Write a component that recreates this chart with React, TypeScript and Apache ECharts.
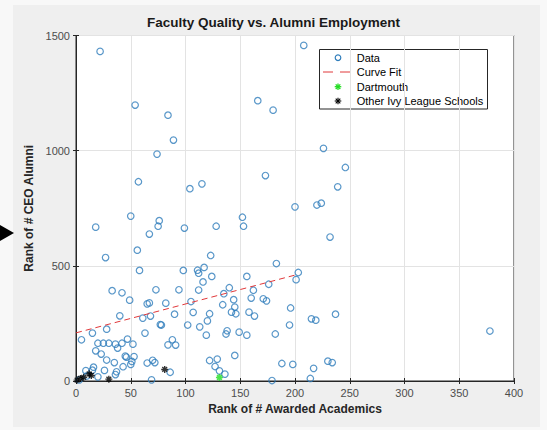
import React, { useEffect, useRef } from "react";
import * as echarts from "echarts";

// Rank of # Awarded Academics (x) and Rank of # CEO Alumni (y) for every school
const rankAwarded = [
  22, 208, 54, 166, 180, 84, 89, 226, 74, 246, 173, 57, 104, 115, 239, 224, 220, 200,
  50, 152, 76, 75, 18, 99, 128, 153, 67, 232, 56, 27, 123, 183, 58, 98, 111, 112, 117,
  124, 156, 203, 201, 116, 140, 176, 162, 33, 42, 49, 73, 65, 67, 82, 94, 105, 112, 135,
  160, 171, 174, 144, 134, 145, 142, 146, 158, 163, 196, 195, 215, 219, 237, 122, 120,
  107, 113, 102, 77, 78, 90, 68, 61, 40, 28, 15, 63, 5, 20, 25, 30, 36, 42, 47, 52, 38,
  18, 23, 45, 46, 53, 28, 35, 51, 50, 43, 65, 72, 70, 84, 88, 91, 26, 16, 9, 20, 37, 36,
  69, 86, 138, 137, 149, 156, 119, 182, 145, 122, 129, 127, 131, 136, 188, 198, 179, 217,
  214, 230, 234, 378, 15, 3, 10,
];
const rankCeo = [
  1431, 1457, 1198, 1217, 1176, 1154, 1046, 1010, 985, 927, 892, 865, 835, 856, 843, 772,
  764, 756, 716, 711, 696, 672, 668, 664, 672, 672, 638, 625, 568, 536, 545, 510, 480, 480,
  481, 468, 493, 454, 454, 471, 440, 430, 405, 420, 394, 392, 383, 351, 396, 335, 339, 338,
  396, 345, 395, 379, 360, 357, 348, 353, 331, 321, 299, 292, 299, 282, 317, 243, 270, 264,
  290, 292, 261, 298, 235, 243, 245, 243, 290, 282, 273, 283, 225, 208, 208, 179, 164, 164,
  164, 160, 164, 182, 160, 143, 131, 117, 108, 104, 106, 91, 80, 85, 72, 62, 78, 80, 90,
  157, 179, 156, 46, 60, 45, 18, 40, 28, 5, 38, 218, 204, 212, 199, 199, 204, 111, 89, 95,
  63, 44, 30, 76, 72, 2, 55, 11, 86, 80, 217, 47, 5, 22,
];

// Linear fit drawn over the fitted range
const fitX = [0, 201];
const fitY = [209, 461];

// Highlighted schools
const dartmouthX = [131];
const dartmouthY = [15];
const ivyX = [1, 4, 7, 12, 14, 30, 81];
const ivyY = [4, 11, 16, 31, 24, 8, 50];

const legendNames = ["Data", "Curve Fit", "Dartmouth", "Other Ivy League Schools"];

const xTicks = { min: 0, max: 400, step: 50 };
const yTicks = { min: 0, max: 1500, step: 500 };

const FONT = "'Liberation Sans', Arial, Helvetica, sans-serif";
const ASTERISK = "path://M5,0L5,10M0,5L10,5M1.6,1.6L8.4,8.4M8.4,1.6L1.6,8.4";
const BLUE = "#2f7dbb";
const RED = "#e0383a";
const GREEN = "#22dd22";

const zip = (xs: number[], ys: number[]) => xs.map((x, i) => [x, ys[i]]);

// Eight-armed asterisk built from line segments, for the legend box
function asterisk(cx: number, cy: number, r: number, color: string, w: number) {
  const d = r * 0.7;
  const seg = (x1: number, y1: number, x2: number, y2: number) => ({
    type: "line",
    shape: { x1, y1, x2, y2 },
    style: { stroke: color, lineWidth: w },
  });
  return {
    type: "group",
    children: [
      seg(cx, cy - r, cx, cy + r),
      seg(cx - r, cy, cx + r, cy),
      seg(cx - d, cy - d, cx + d, cy + d),
      seg(cx + d, cy - d, cx - d, cy + d),
    ],
  };
}

export default function App() {
  const ref = useRef<HTMLDivElement>(null);

  useEffect(() => {
    if (!ref.current) return;
    const chart = echarts.init(ref.current, undefined, { renderer: "svg" });

    const axisLine = { show: true, lineStyle: { color: "#262626", width: 1 } };
    const tick = { show: true, inside: true, length: 3, lineStyle: { color: "#262626" } };
    const plain = (v: number) => String(v);

    // Legend box geometry
    const box = { x: 319.5, y: 49.5, w: 168, h: 59.5 };
    const rowY = [57.7, 72, 86.7, 101];
    const iconX = 338;
    const textX = 356.7;

    chart.setOption({
      animation: false,
      backgroundColor: "transparent",
      title: {
        text: "Faculty Quality vs. Alumni Employment",
        left: "center",
        top: 15,
        padding: [0, 0, 0, 42],
        textStyle: { fontSize: 13.5, fontWeight: "bold", color: "#1a1a1a", fontFamily: FONT },
      },
      grid: {
        left: 76,
        right: 33,
        top: 35.5,
        bottom: 49,
        show: true,
        backgroundColor: "#ffffff",
        borderColor: "#262626",
        borderWidth: 1,
      },
      xAxis: [
        {
          type: "value",
          min: xTicks.min,
          max: xTicks.max,
          interval: xTicks.step,
          position: "bottom",
          axisLine,
          axisTick: tick,
          axisLabel: { fontSize: 11, color: "#4d4d4d", margin: 6, fontFamily: FONT, formatter: plain },
          splitLine: { show: true, lineStyle: { color: "#e3e3e3", width: 1 } },
          name: "Rank of # Awarded Academics",
          nameLocation: "middle",
          nameGap: 22,
          nameTextStyle: { fontSize: 12, fontWeight: "bold", color: "#262626", fontFamily: FONT },
        },
        {
          type: "value",
          min: xTicks.min,
          max: xTicks.max,
          interval: xTicks.step,
          position: "top",
          axisLine,
          axisTick: tick,
          axisLabel: { show: false },
          splitLine: { show: false },
        },
      ],
      yAxis: [
        {
          type: "value",
          min: yTicks.min,
          max: yTicks.max,
          interval: yTicks.step,
          position: "left",
          axisLine,
          axisTick: tick,
          axisLabel: { fontSize: 11, color: "#4d4d4d", margin: 6, fontFamily: FONT, formatter: plain },
          splitLine: { show: true, lineStyle: { color: "#e3e3e3", width: 1 } },
          name: "Rank of # CEO Alumni",
          nameLocation: "middle",
          nameGap: 24,
          nameTextStyle: { fontSize: 12, fontWeight: "bold", color: "#262626", fontFamily: FONT },
        },
        {
          type: "value",
          min: yTicks.min,
          max: yTicks.max,
          interval: yTicks.step,
          position: "right",
          axisLine,
          axisTick: tick,
          axisLabel: { show: false },
          splitLine: { show: false },
        },
      ],
      graphic: [
        {
          type: "polygon",
          shape: { points: [[0, 225], [14, 233], [0, 241]] },
          style: { fill: "#000" },
        },
        {
          type: "group",
          z: 100,
          children: [
            {
              type: "rect",
              shape: { x: box.x, y: box.y, width: box.w, height: box.h },
              style: { fill: "#ffffff", stroke: "#262626", lineWidth: 1 },
            },
            {
              type: "circle",
              shape: { cx: iconX, cy: rowY[0], r: 2.8 },
              style: { fill: "none", stroke: BLUE, lineWidth: 1.2 },
            },
            {
              type: "line",
              shape: { x1: 323, y1: rowY[1], x2: 350, y2: rowY[1] },
              style: { stroke: RED, lineWidth: 1, lineDash: [10, 7] },
            },
            asterisk(iconX, rowY[2], 3.3, GREEN, 1.3),
            asterisk(iconX, rowY[3], 3.3, "#000000", 1.1),
            ...legendNames.map((name, i) => ({
              type: "text",
              x: textX,
              y: rowY[i],
              style: {
                text: name,
                fill: "#000",
                fontSize: 11,
                fontFamily: FONT,
                textAlign: "left",
                textVerticalAlign: "middle",
              },
            })),
          ],
        },
      ],
      series: [
        {
          name: "Data",
          type: "scatter",
          symbol: "circle",
          symbolSize: 6.5,
          itemStyle: { color: "rgba(255,255,255,0)", borderColor: BLUE, borderWidth: 1.2 },
          data: zip(rankAwarded, rankCeo),
        },
        {
          name: "Curve Fit",
          type: "line",
          symbol: "none",
          lineStyle: { color: RED, width: 1, type: [6, 4] },
          data: zip(fitX, fitY),
        },
        {
          name: "Dartmouth",
          type: "scatter",
          symbol: ASTERISK,
          symbolSize: 7,
          itemStyle: { color: "rgba(0,0,0,0)", borderColor: GREEN, borderWidth: 1.6 },
          data: zip(dartmouthX, dartmouthY),
        },
        {
          name: "Other Ivy League Schools",
          type: "scatter",
          symbol: ASTERISK,
          symbolSize: 7,
          itemStyle: { color: "rgba(0,0,0,0)", borderColor: "#000000", borderWidth: 1.4 },
          data: zip(ivyX, ivyY),
        },
      ],
    });

    return () => chart.dispose();
  }, []);

  return (
    <div style={{ position: "absolute", left: 0, top: 0, width: 547, height: 430, background: "#f8f8f8" }}>
      <div style={{ position: "absolute", left: 13, top: 5, width: 527, height: 422, background: "#efefef" }} />
      <div ref={ref} style={{ position: "absolute", left: 0, top: 0, width: 547, height: 430 }} />
    </div>
  );
}
